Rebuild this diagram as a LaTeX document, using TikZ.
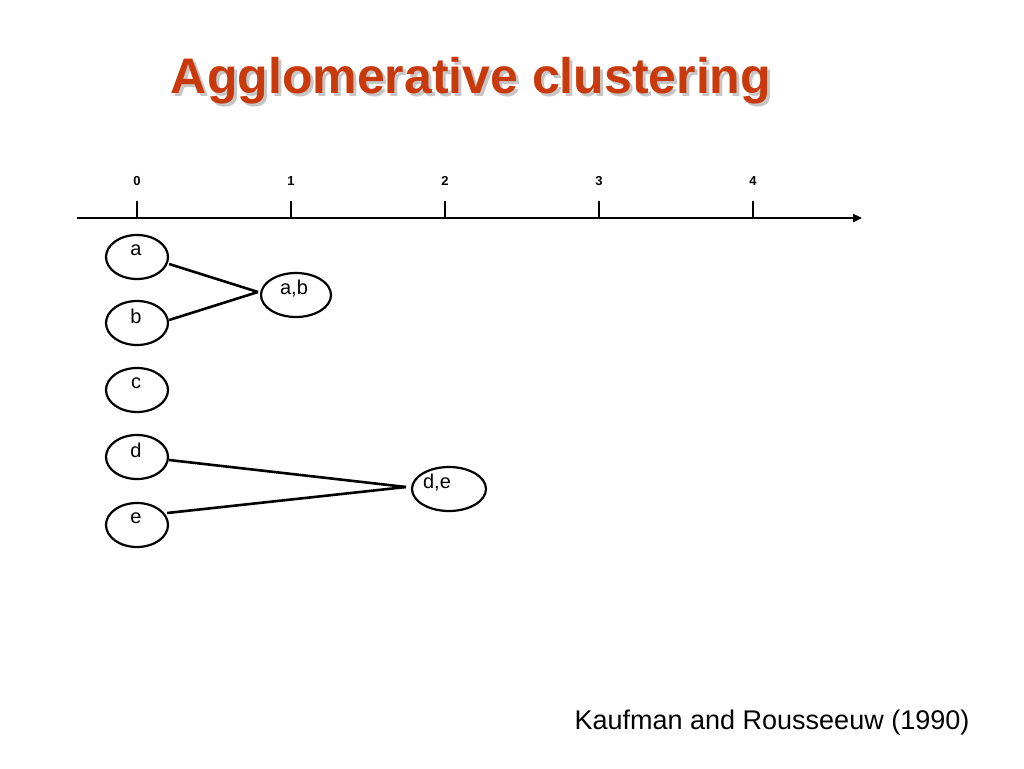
\documentclass[tikz,border=0pt]{standalone}
\usepackage{fontspec}
\setmainfont{Liberation Sans}
\usetikzlibrary{arrows.meta,shapes.geometric}
\definecolor{titlered}{RGB}{200,58,12}
\tikzset{
  ell/.style={draw,line width=2.2pt,ellipse,minimum width=62pt,minimum height=44pt,inner sep=0pt},
  lbl/.style={font=\fontsize{20}{20}\selectfont,inner sep=0pt},
  tick/.style={font=\bfseries\fontsize{13}{13}\selectfont,inner sep=0pt},
  conn/.style={line width=2.6pt},
  ttl/.style={font=\bfseries\fontsize{50}{50}\selectfont,inner sep=0pt}
}
\begin{document}
\begin{tikzpicture}[x=1pt,y=-1pt]
\useasboundingbox (0,0) rectangle (1024,768);
\node[ttl,text=gray!45] (shadow) at (474,84) {Agglomerative clustering};
\node[ttl,text=titlered] (title) at (471,81) {Agglomerative clustering};
\coordinate (ax0) at (77,218);
\coordinate (ax1) at (862,218);
\draw[line width=2.8pt,-{Triangle[length=9pt,width=8pt]}] (ax0) -- (ax1);
\foreach \i/\x in {0/137,1/291,2/445,3/599,4/753}{
  \draw[line width=2.8pt] (\x,201) -- (\x,218);
  \node[tick] (t\i) at (\x,181) {\i};
}
\foreach \n/\y in {a/257,b/323,c/390,d/457,e/525}{
  \node[ell] (\n) at (137,\y) {};
  \node[lbl] (\n t) at (136,\y-7) {\n};
}
\node[ell,minimum width=70pt] (ab) at (296,295) {};
\node[lbl] (abt) at (294,289) {a,b};
\node[ell,minimum width=74pt] (de) at (449,489) {};
\node[lbl] (det) at (437,483) {d,e};
\coordinate (abj) at (258,292);
\coordinate (dej) at (406,487);
\draw[conn] (a.east)++(0,7) -- (abj);
\draw[conn] (b.east)++(0,-3) -- (abj);
\draw[conn] (d.east)++(0,3) -- (dej);
\draw[conn] (e.east)++(-2,-12) -- (dej);
\node[font=\fontsize{27}{27}\selectfont] (ref) at (772,723) {Kaufman and Rousseeuw (1990)};
\end{tikzpicture}
\end{document}
